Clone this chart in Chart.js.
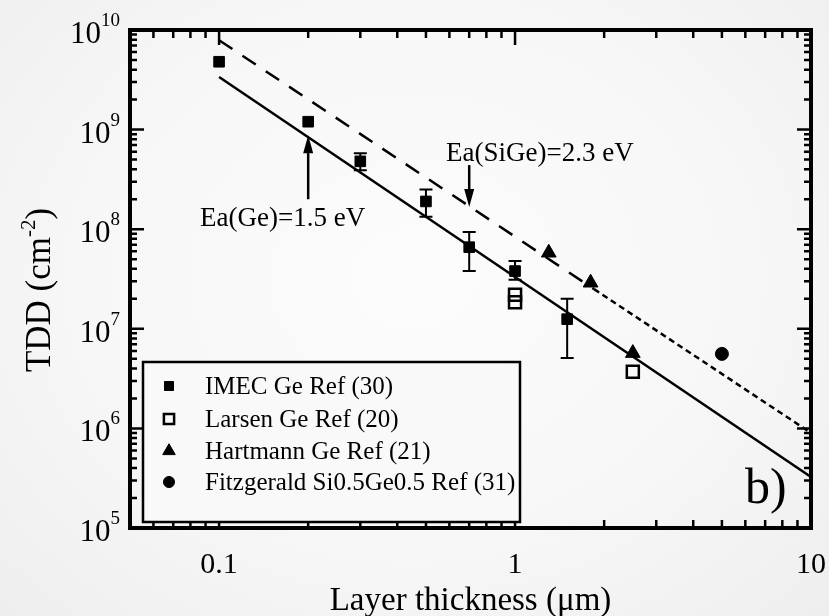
<!DOCTYPE html>
<html>
<head>
<meta charset="utf-8">
<script src="https://cdn.jsdelivr.net/npm/chart.js@4.4.1/dist/chart.umd.min.js"></script>
<style>
  html, body { margin: 0; padding: 0; }
  body {
    width: 829px; height: 616px; overflow: hidden;
    background: radial-gradient(ellipse at 50% 45%, #fcfcfc 0%, #f7f7f7 55%, #eeeeee 100%);
  }
</style>
</head>
<body>
<canvas id="tdd" width="829" height="616"></canvas>
<script>
// TDD vs layer thickness, log-log

const SERIF = '"Liberation Serif", "Times New Roman", serif';

// ── Data ──────────────────────────────────────────────────────────────────

const imecX  = [0.1, 0.2, 0.3, 0.5, 0.7, 1.0, 1.5];
const imecY  = [4.8e9, 1.2e9, 4.8e8, 1.9e8, 6.6e7, 3.8e7, 1.25e7];
const imecLo = [null, null, 3.9e8, 1.33e8, 3.8e7, 3.1e7, 5.1e6];
const imecHi = [null, null, 5.8e8, 2.5e8, 9.4e7, 4.8e7, 2.0e7];

const larsenX = [1.0, 1.0, 2.5];
const larsenY = [2.2e7, 1.85e7, 3.7e6];

const hartmannX = [1.3, 1.8, 2.5];
const hartmannY = [5.8e7, 2.9e7, 5.7e6];

const fitzX = [5.0];
const fitzY = [5.6e6];

// fitted lines
const geFitX = [0.1, 10];
const geFitY = [3.37e9, 3.25e5];
const sigeDashX = [0.1, 1.85];
const sigeDashY = [7.9e9, 2.5e7];
const sigeDotX = [1.85, 10];
const sigeDotY = [2.5e7, 9.0e5];

// ticks
const xMajor = [0.1, 1, 10];
const xTickLabels = ['0.1', '1', '10'];
const yMajor = [1e5, 1e6, 1e7, 1e8, 1e9, 1e10];
const yExponents = ['5', '6', '7', '8', '9', '10'];

const xMinor = [];
[0.01, 0.1, 1].forEach(d => { for (let k = 2; k <= 9; k++) if (d * k > 0.05) xMinor.push(d * k); });
const yMinor = [];
[1e5, 1e6, 1e7, 1e8, 1e9].forEach(d => { for (let k = 2; k <= 9; k++) yMinor.push(d * k); });

const legendLabels = [
  'IMEC Ge Ref (30)',
  'Larsen Ge Ref (20)',
  'Hartmann Ge Ref (21)',
  'Fitzgerald Si0.5Ge0.5 Ref (31)',
];

const pts = (xs, ys) => xs.map((v, i) => ({ x: v, y: ys[i] }));

// ── Plugins ───────────────────────────────────────────────────────────────

const errorBars = {
  id: 'errorBars',
  beforeDatasetsDraw(chart) {
    const { ctx, scales: { x, y } } = chart;
    ctx.save();
    ctx.strokeStyle = '#000';
    ctx.lineWidth = 2;
    imecX.forEach((v, i) => {
      if (imecLo[i] == null) return;
      const px = x.getPixelForValue(v);
      const top = y.getPixelForValue(imecHi[i]);
      const bot = y.getPixelForValue(imecLo[i]);
      ctx.beginPath();
      ctx.moveTo(px, top); ctx.lineTo(px, bot);
      ctx.moveTo(px - 6.5, top); ctx.lineTo(px + 6.5, top);
      ctx.moveTo(px - 6.5, bot); ctx.lineTo(px + 6.5, bot);
      ctx.stroke();
    });
    ctx.restore();
  }
};

const axesFrame = {
  id: 'axesFrame',
  afterDraw(chart) {
    const { ctx, chartArea: a, scales: { x, y } } = chart;
    const seg = (x1, y1, x2, y2) => { ctx.moveTo(x1, y1); ctx.lineTo(x2, y2); };
    ctx.save();
    ctx.strokeStyle = '#000';
    ctx.lineWidth = 2.5;
    ctx.beginPath();
    xMinor.forEach(v => {
      const p = x.getPixelForValue(v);
      seg(p, a.bottom, p, a.bottom - 8); seg(p, a.top, p, a.top + 8);
    });
    xMajor.forEach(v => {
      const p = x.getPixelForValue(v);
      seg(p, a.bottom, p, a.bottom - 15); seg(p, a.top, p, a.top + 15);
    });
    yMinor.forEach(v => {
      const p = y.getPixelForValue(v);
      seg(a.left, p, a.left + 7, p); seg(a.right, p, a.right - 7, p);
    });
    yMajor.forEach(v => {
      const p = y.getPixelForValue(v);
      seg(a.left, p, a.left + 14, p); seg(a.right, p, a.right - 14, p);
    });
    ctx.stroke();

    ctx.lineWidth = 4;
    ctx.strokeRect(a.left, a.top, a.right - a.left, a.bottom - a.top);

    // tick labels
    ctx.fillStyle = '#000';
    ctx.textBaseline = 'alphabetic';
    ctx.font = `30px ${SERIF}`;
    ctx.textAlign = 'center';
    xMajor.forEach((v, i) => ctx.fillText(xTickLabels[i], x.getPixelForValue(v), 573));

    yMajor.forEach((v, i) => {
      const p = y.getPixelForValue(v);
      const right = 120;
      ctx.font = `19px ${SERIF}`;
      const ew = ctx.measureText(yExponents[i]).width;
      ctx.textAlign = 'left';
      ctx.fillText(yExponents[i], right - ew, p - 4);
      ctx.font = `31px ${SERIF}`;
      ctx.textAlign = 'right';
      ctx.fillText('10', right - ew, p + 13);
    });

    // axis titles
    ctx.font = `33px ${SERIF}`;
    ctx.textAlign = 'center';
    ctx.fillText('Layer thickness (\u03bcm)', (a.left + a.right) / 2, 610);

    ctx.translate(50, 290);
    ctx.rotate(-Math.PI / 2);
    ctx.textAlign = 'left';
    const partA = 'TDD (cm', sup = '-2', partB = ')';
    ctx.font = `35px ${SERIF}`;
    const wA = ctx.measureText(partA).width, wB = ctx.measureText(partB).width;
    ctx.font = `21px ${SERIF}`;
    const wS = ctx.measureText(sup).width;
    let cx = -(wA + wS + wB) / 2;
    ctx.font = `35px ${SERIF}`;
    ctx.fillText(partA, cx, 0); cx += wA;
    ctx.font = `21px ${SERIF}`;
    ctx.fillText(sup, cx, -15); cx += wS;
    ctx.font = `35px ${SERIF}`;
    ctx.fillText(partB, cx, 0);
    ctx.restore();
  }
};

const legendBox = {
  id: 'legendBox',
  afterDraw(chart) {
    const { ctx } = chart;
    ctx.save();
    ctx.fillStyle = '#f9f9f9';
    ctx.fillRect(143, 362, 377, 160);
    ctx.strokeStyle = '#000';
    ctx.lineWidth = 2.5;
    ctx.strokeRect(143, 362, 377, 160);
    const rows = [386, 419, 451, 482];
    ctx.font = `25px ${SERIF}`;
    ctx.textAlign = 'left';
    ctx.textBaseline = 'middle';
    legendLabels.forEach((label, i) => {
      const ds = chart.data.datasets[i];
      ctx.fillStyle = ds.pointBackgroundColor;
      ctx.strokeStyle = ds.pointBorderColor;
      ctx.lineWidth = ds.pointBorderWidth;
      Chart.helpers.drawPoint(ctx, {
        pointStyle: ds.pointStyle, radius: ds.pointRadius * 0.85,
        rotation: 0, borderWidth: ds.pointBorderWidth
      }, 169, rows[i]);
      ctx.fillStyle = '#000';
      ctx.fillText(label, 205, rows[i] + 1);
    });
    ctx.restore();
  }
};

const notes = {
  id: 'notes',
  afterDraw(chart) {
    const { ctx, scales: { x, y } } = chart;
    const arrow = (xv, fromV, toV) => {
      const px = x.getPixelForValue(xv);
      const y0 = y.getPixelForValue(fromV), y1 = y.getPixelForValue(toV);
      const dir = Math.sign(y1 - y0), head = 18;
      ctx.beginPath();
      ctx.moveTo(px, y0); ctx.lineTo(px, y1 - dir * head);
      ctx.stroke();
      ctx.beginPath();
      ctx.moveTo(px, y1);
      ctx.lineTo(px - 5, y1 - dir * head);
      ctx.lineTo(px + 5, y1 - dir * head);
      ctx.closePath();
      ctx.fill();
    };
    ctx.save();
    ctx.fillStyle = '#000';
    ctx.strokeStyle = '#000';
    ctx.lineWidth = 2.5;
    arrow(0.2, 2.0e8, 8.8e8);
    arrow(0.7, 4.4e8, 1.67e8);
    ctx.font = `27px ${SERIF}`;
    ctx.textAlign = 'left';
    ctx.textBaseline = 'alphabetic';
    ctx.fillText('Ea(Ge)=1.5 eV', 200, 226);
    ctx.fillText('Ea(SiGe)=2.3 eV', 446, 161);
    ctx.font = `50px ${SERIF}`;
    ctx.fillText('b)', 745, 503);
    ctx.restore();
  }
};

// ── Chart ─────────────────────────────────────────────────────────────────

const fitLine = (xs, ys, dash) => ({
  data: pts(xs, ys),
  showLine: true,
  pointRadius: 0,
  borderColor: '#000',
  borderWidth: 2.5,
  borderDash: dash,
  fill: false,
});

new Chart(document.getElementById('tdd').getContext('2d'), {
  type: 'scatter',
  data: {
    datasets: [
      { data: pts(imecX, imecY), pointStyle: 'rect', pointRadius: 7.5,
        pointBackgroundColor: '#000', pointBorderColor: '#000', pointBorderWidth: 1 },
      { data: pts(larsenX, larsenY), pointStyle: 'rect', pointRadius: 8.5,
        pointBackgroundColor: 'rgba(0,0,0,0)', pointBorderColor: '#000', pointBorderWidth: 2.5 },
      { data: pts(hartmannX, hartmannY), pointStyle: 'triangle', pointRadius: 8.5,
        pointBackgroundColor: '#000', pointBorderColor: '#000', pointBorderWidth: 1 },
      { data: pts(fitzX, fitzY), pointStyle: 'circle', pointRadius: 6.5,
        pointBackgroundColor: '#000', pointBorderColor: '#000', pointBorderWidth: 1 },
      fitLine(geFitX, geFitY, []),
      fitLine(sigeDashX, sigeDashY, [16, 12]),
      fitLine(sigeDotX, sigeDotY, [6, 4]),
    ],
  },
  options: {
    responsive: false,
    animation: false,
    layout: { padding: { left: 130, top: 30, right: 18, bottom: 88 } },
    scales: {
      x: { type: 'logarithmic', min: 0.05, max: 10, display: false },
      y: { type: 'logarithmic', min: 1e5, max: 1e10, display: false },
    },
    plugins: { legend: { display: false }, tooltip: { enabled: false } },
  },
  plugins: [errorBars, axesFrame, legendBox, notes],
});
</script>
</body>
</html>
